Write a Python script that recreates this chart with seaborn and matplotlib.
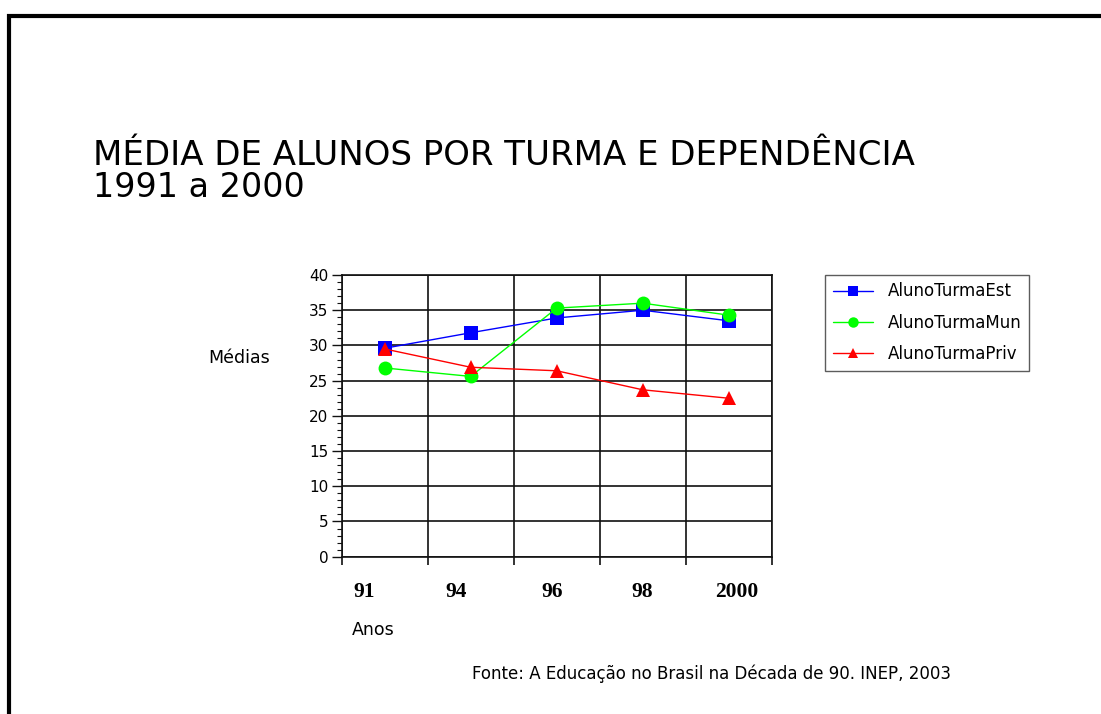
import pandas as pd
import numpy as np
import matplotlib
matplotlib.use("Agg")
import matplotlib.pyplot as plt
import matplotlib.transforms as mtransforms
from matplotlib.lines import Line2D
from matplotlib.ticker import MultipleLocator, FixedLocator
import seaborn as sns

# Data
anos = ["91", "94", "96", "98", "2000"]
est = [29.6, 31.8, 33.9, 35.0, 33.5]
mun = [26.8, 25.6, 35.3, 36.0, 34.3]
priv = [29.5, 26.9, 26.4, 23.7, 22.5]
series = ["AlunoTurmaEst", "AlunoTurmaMun", "AlunoTurmaPriv"]

df = pd.DataFrame({
    "pos": list(range(len(anos))) * 3,
    "valor": est + mun + priv,
    "serie": np.repeat(series, len(anos)),
})

sns.set_style("white")
plt.rcParams["font.family"] = ["DejaVu Sans"]
plt.rcParams["text.color"] = "black"
plt.rcParams["xtick.color"] = "black"
plt.rcParams["ytick.color"] = "black"

fig = plt.figure(figsize=(11.01, 7.14), dpi=100)
ax = fig.add_axes([341.7 / 1101, 1 - 556.7 / 714, 430 / 1101, 281.7 / 714])

palette = {"AlunoTurmaEst": "#0000ff", "AlunoTurmaMun": "#00ff00", "AlunoTurmaPriv": "#ff0000"}
markers = {"AlunoTurmaEst": "s", "AlunoTurmaMun": "o", "AlunoTurmaPriv": "^"}
sns.lineplot(data=df, x="pos", y="valor", hue="serie", style="serie",
             palette=palette, markers=markers, dashes=False, linewidth=1,
             markersize=10, markeredgewidth=0, ax=ax, zorder=3)

ax.set_xlim(-0.5, len(anos) - 0.5)
ax.set_ylim(0, 40)
ax.set_xlabel("")
ax.set_ylabel("")

# grid and ticks
ax.xaxis.set_major_locator(FixedLocator(np.arange(-0.5, len(anos), 1)))
ax.xaxis.set_minor_locator(FixedLocator(np.arange(len(anos))))
ax.set_xticklabels([], minor=False)
ax.set_xticklabels(anos, minor=True, fontfamily="Liberation Serif",
                   fontweight="bold", fontsize=15.5, color="black")
ax.tick_params(axis="x", which="major", length=6, width=1.2, color="#111", direction="out")
ax.tick_params(axis="x", which="minor", length=0, pad=18)
ax.yaxis.set_major_locator(MultipleLocator(5))
ax.yaxis.set_minor_locator(MultipleLocator(1))
ax.tick_params(axis="y", which="major", length=7, width=1, color="#111",
               direction="out", pad=2.5, labelsize=11, labelcolor="black")
ax.tick_params(axis="y", which="minor", length=3.6, width=0.8, color="#111", direction="out")
ax.tick_params(left=True, bottom=True, which="both")
ax.grid(True, which="major", color="#111", linewidth=1.2)
for s in ax.spines.values():
    s.set_color("#111")
    s.set_linewidth(1.2)

# small shifts of the year labels as in the original slide
shifts = [-21, -15, -5, -1, 8]
for lab, dx in zip(ax.get_xticklabels(minor=True), shifts):
    lab.set_transform(lab.get_transform() +
                      mtransforms.ScaledTranslation(dx / 100, 0, fig.dpi_scale_trans))

leg = ax.legend(loc="upper left", bbox_to_anchor=(825 / 1101, 1 - 275 / 714),
                bbox_transform=fig.transFigure, frameon=True, fancybox=False,
                fontsize=12, handlelength=2.4, handletextpad=0.9, markerscale=0.75,
                labelspacing=0.8, borderpad=0.45, borderaxespad=0, title=None)
leg.get_frame().set_edgecolor("#333")
leg.get_frame().set_linewidth(1)

fig.text(93 / 1101, 1 - 165 / 714, "MÉDIA DE ALUNOS POR TURMA E DEPENDÊNCIA",
         fontsize=24.5, ha="left", va="baseline", color="black")
fig.text(93 / 1101, 1 - 197 / 714, "1991 a 2000",
         fontsize=24, ha="left", va="baseline", color="black")
fig.text(208 / 1101, 1 - 358 / 714, "Médias", fontsize=12.5, ha="left", va="center")
fig.text(352 / 1101, 1 - 630 / 714, "Anos", fontsize=12.5, ha="left", va="center")
fig.text(472 / 1101, 1 - 674 / 714, "Fonte: A Educação no Brasil na Década de 90. INEP, 2003",
         fontsize=12, ha="left", va="center")

# slide frame (top and left edges)
fig.add_artist(Line2D([7 / 1101, 1], [1 - 16 / 714, 1 - 16 / 714],
                      transform=fig.transFigure, color="black", linewidth=3,
                      solid_capstyle="butt"))
fig.add_artist(Line2D([9 / 1101, 9 / 1101], [0, 1 - 14 / 714],
                      transform=fig.transFigure, color="black", linewidth=3,
                      solid_capstyle="butt"))

fig.savefig("out.png", dpi=100)
plt.close()
